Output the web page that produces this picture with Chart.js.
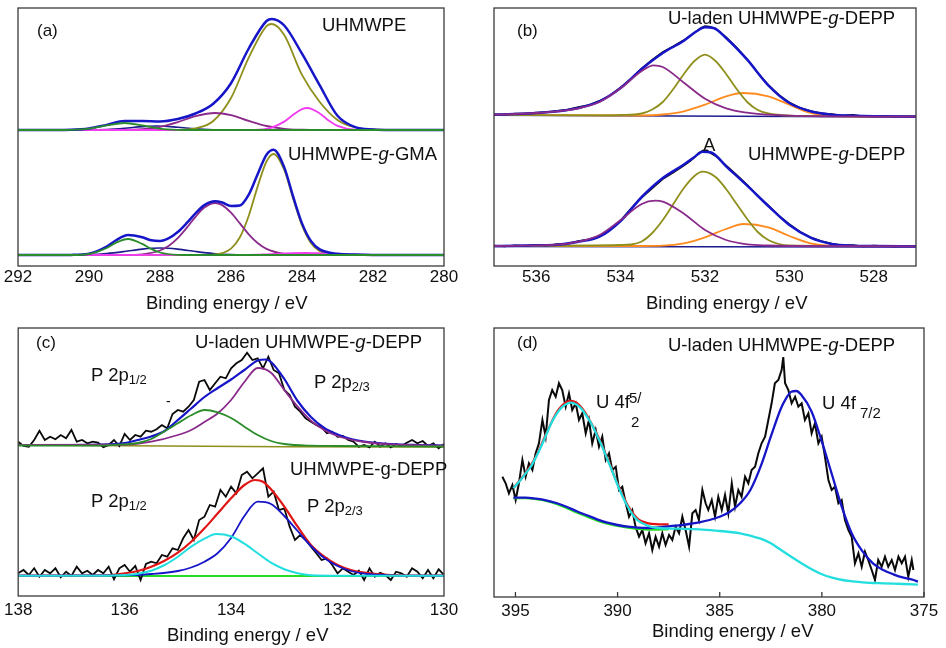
<!DOCTYPE html>
<html>
<head>
<meta charset="utf-8">
<script src="https://cdn.jsdelivr.net/npm/chart.js@4.4.1/dist/chart.umd.min.js"></script>
<style>
body{margin:0;background:#fff;width:946px;height:648px;position:relative;overflow:hidden;font-family:"Liberation Sans",Arial,sans-serif;color:#111}
canvas{position:absolute}
.t{position:absolute;white-space:nowrap;line-height:1;font-size:18.5px}
.t i{font-style:italic}
.s{font-size:13px;position:relative;top:3px}
.p{font-size:17px}
</style>
</head>
<body>
<canvas id="ca" width="470" height="296" style="left:0;top:0"></canvas>
<canvas id="cb" width="476" height="296" style="left:470px;top:0"></canvas>
<canvas id="cc" width="470" height="306" style="left:0;top:320px"></canvas>
<canvas id="cd" width="476" height="307" style="left:470px;top:320px"></canvas>

<div class="t p" style="left:37px;top:22px">(a)</div>
<div class="t" style="left:322px;top:16px">UHMWPE</div>
<div class="t" style="left:288px;top:145px">UHMWPE-<i>g</i>-GMA</div>
<div class="t" style="left:146px;top:294px">Binding energy / eV</div>

<div class="t p" style="left:517px;top:22px">(b)</div>
<div class="t" style="left:668px;top:9px">U-laden UHMWPE-<i>g</i>-DEPP</div>
<div class="t" style="left:748px;top:145px">UHMWPE-<i>g</i>-DEPP</div>
<div class="t" style="left:703px;top:136px">A</div>
<div class="t" style="left:646px;top:294px">Binding energy / eV</div>

<div class="t p" style="left:36px;top:334px">(c)</div>
<div class="t" style="left:195px;top:333px">U-laden UHMWPE-<i>g</i>-DEPP</div>
<div class="t" style="left:91px;top:366px">P 2p<span class="s">1/2</span></div>
<div class="t" style="left:314px;top:373px">P 2p<span class="s">2/3</span></div>
<div class="t" style="left:166px;top:394px;font-size:14px">-</div>
<div class="t" style="left:290px;top:460px">UHMWPE-g-DEPP</div>
<div class="t" style="left:91px;top:492px">P 2p<span class="s">1/2</span></div>
<div class="t" style="left:307px;top:497px">P 2p<span class="s">2/3</span></div>
<div class="t" style="left:167px;top:626px">Binding energy / eV</div>

<div class="t p" style="left:517px;top:334px">(d)</div>
<div class="t" style="left:668px;top:336px">U-laden UHMWPE-<i>g</i>-DEPP</div>
<div class="t" style="left:596px;top:393px">U 4f</div>
<div class="t" style="left:629px;top:390px;font-size:15px">5/</div>
<div class="t" style="left:631px;top:414px;font-size:15px">2</div>
<div class="t" style="left:822px;top:394px">U 4f</div>
<div class="t" style="left:860px;top:405px;font-size:15px">7/2</div>
<div class="t" style="left:652px;top:622px">Binding energy / eV</div>

<script>
const FONT = '"Liberation Sans", Arial, sans-serif';

// tick labels
const aTicks = [292, 290, 288, 286, 284, 282, 280];
const bTicks = [536, 534, 532, 530, 528];
const cTicks = [138, 136, 134, 132, 130];
const dTicks = [395, 390, 385, 380, 375];

/* (a) C 1s : [binding energy, intensity a.u.] */
const aTopEnvelope = [[292,136],[291,136],[290.5,136.2],[290,137.5],[289.5,141.1],[289,144.9],[288.5,144.9],[288,144.5],[287.5,147],[287,152.5],[286.5,162.3],[286,182.8],[285.5,217.5],[285,245],[284.85,247.1],[284.5,240.5],[284,212.3],[283.5,180.6],[283,150.2],[282.5,138.8],[282,136.6],[281.5,136.1],[280,136]];
const aTopOlive = [[292,136],[287.5,136.2],[287,137.6],[286.5,145],[286,168],[285.5,208.4],[285,239.9],[284.85,242],[284.5,230.9],[284,191.1],[283.5,164],[283,146],[282.5,138.5],[282,136.5],[281.5,136],[280,136]];
const aTopMagenta = [[292,136],[285.5,136],[285,137.1],[284.5,144.4],[284.25,151.2],[284,156.9],[283.85,158],[283.5,152.6],[283.25,145.6],[283,140.2],[282.5,136.3],[282,136],[280,136]];
const aTopPurple = [[292,136],[289,136.2],[288.5,136.9],[288,139.2],[287.5,143.9],[287,149.8],[286.45,153],[286,150.8],[285.5,145.1],[285,140],[284.5,137.2],[284,136.3],[283.5,136],[280,136]];
const aTopGreen = [[292,136],[291,136],[290.5,136.2],[290,137.4],[289.5,140.6],[289,143],[288.5,140.6],[288,137.4],[287.5,136.2],[287,136],[280,136]];
const aTopNavy = [[292,136],[290,136.1],[289.5,136.5],[289,137.7],[288.5,139.4],[288.1,140],[287.5,138.7],[287,137.1],[286.5,136.3],[286,136],[280,136]];

const aBotEnvelope = [[292,11],[291,11],[290.5,11.1],[290,12.4],[289.5,19.5],[289.25,25.5],[288.9,31.1],[288.5,28.7],[288.25,25.7],[288,25],[287.75,27.8],[287.5,34],[287.25,42.8],[287,52.7],[286.75,60.9],[286.45,64.8],[286.25,63.5],[286,60],[285.75,60.5],[285.5,71.3],[285.25,91.8],[285,111.3],[284.8,116.3],[284.5,98.6],[284.25,69.5],[284,42.6],[283.75,25.1],[283.5,16.6],[283,12.2],[282.5,11.4],[282,11.1],[281,11],[280,11]];
const aBotOlive = [[292,11],[286.75,11.1],[286.5,11.4],[286.25,12.8],[286,17.3],[285.75,28.7],[285.5,50.3],[285.25,79.4],[285,104.5],[284.8,112],[284.5,96],[284.25,67.4],[284,40.5],[283.75,23.1],[283.5,14.9],[283,11.2],[282.5,11],[280,11]];
const aBotPurple = [[292,11],[289,11.1],[288.5,11.7],[288,15.5],[287.75,20.3],[287.5,27.9],[287.25,38.1],[287,49.2],[286.75,58.4],[286.45,63],[286.25,60.9],[286,53.3],[285.75,42.6],[285.5,31.7],[285.25,23],[285,17.1],[284.5,12.1],[284,11.1],[283.5,11],[280,11]];
const aBotGreen = [[292,11],[290.5,11],[290,12],[289.5,18],[289.25,23.1],[288.9,27],[288.5,22.1],[288.25,17.1],[288,13.5],[287.5,11.2],[287,11],[280,11]];
const aBotNavy = [[292,11],[290.5,11.1],[290,11.4],[289.5,12.5],[289,14.5],[288.5,16.9],[288,18],[287.5,16.9],[287,14.5],[286.5,12.5],[286,11.4],[285.5,11.1],[285,11],[280,11]];
const aBotMagenta = [[292,11],[285.5,11.2],[285,11.7],[284.5,12.5],[283.9,13],[283.5,12.7],[283,12],[282.5,11.4],[282,11.1],[281.5,11],[280,11]];

/* (b) O 1s */
const bTopRaw = [[537,151.8],[536.75,151.2],[536.5,152.5],[536.25,152.4],[536,153.6],[535.75,153.9],[535.5,155.2],[535.25,156.4],[535,158.9],[534.75,161],[534.5,165.2],[534.25,170.6],[534,178.7],[533.75,187.5],[533.5,197.8],[533.25,206.3],[533,214],[532.75,219.8],[532.5,226],[532.25,233.4],[532.1,238],[532,240],[531.9,239.4],[531.75,237.5],[531.5,228.9],[531.25,218.4],[531,206.8],[530.75,193.1],[530.5,181.2],[530.25,171.2],[530,163.6],[529.75,158.3],[529.5,155.1],[529.25,152.7],[529,151.9],[528.75,150.4],[528.5,151.2],[528.25,149.8],[528,150.3],[527.5,149.6],[527,149.8]];
const bTopEnvelope = [[537,151.3],[536.5,152],[536,153],[535.5,154.7],[535,158],[534.5,164.7],[534,178],[533.5,197],[533,213],[532.5,225.3],[532.2,234.7],[532,238.7],[531.8,238],[531.5,228],[531,206.3],[530.5,180.7],[530,163],[529.5,154.7],[529,151.3],[528.5,150.3],[528,149.7],[527,149.3]];
const bTopPurple = [[537,151.3],[536.5,152],[536,153],[535.5,154.7],[535,157.7],[534.5,164],[534,177.7],[533.5,195],[533.22,200.7],[533,199],[532.5,183.3],[532,167.3],[531.5,157.7],[531,153.3],[530.5,151.3],[530,150.3],[529,149.7],[527,149.3]];
const bTopOlive = [[537,151],[534.5,150.7],[534,151],[533.5,152.5],[533.25,156.5],[533,164],[532.75,177],[532.5,192],[532.25,205],[532,211.3],[531.75,205],[531.5,192],[531.25,177],[531,164],[530.75,156],[530.5,152.5],[530,150.3],[529.5,150],[527,149.3]];
const bTopOrange = [[537,151],[533.5,150.5],[533,151.5],[532.5,154.7],[532,161.3],[531.5,169.7],[531.1,173],[530.5,169.7],[530,161.3],[529.5,153],[529,150.7],[528.5,149.7],[527,149.3]];
const bTopNavy = [[537,150.7],[527,149]];

const bBotRaw = [[537,20.5],[536.75,19.6],[536.5,20.8],[536.25,20.1],[536,21.2],[535.75,20.6],[535.5,22],[535.25,22.6],[535,24.9],[534.75,26.8],[534.5,30.2],[534.25,36.3],[534,45.6],[533.75,57.8],[533.5,68.2],[533.25,77.6],[533,86.8],[532.75,93.4],[532.5,100.3],[532.35,104.8],[532.25,108.6],[532.15,113.2],[532.05,115.4],[531.95,115.8],[531.85,112.4],[531.75,110],[531.5,100.8],[531.25,91.1],[531,81.3],[530.75,70.2],[530.5,60.8],[530.25,50.4],[530,41.9],[529.75,34.3],[529.5,28.8],[529.25,25.1],[529,22.6],[528.75,20.6],[528.5,21.1],[528.25,19.4],[528,20.5],[527.5,19.5],[527,20.2]];
const bBotEnvelope = [[537,20],[536.5,20.3],[536,20.7],[535.5,21.3],[535,24.3],[534.5,29.3],[534,45],[533.5,69],[533,88],[532.5,101.5],[532.25,109],[532.06,114.3],[531.85,113.5],[531.5,99.7],[531,80.3],[530.5,60],[530,41],[529.5,28.3],[529,22],[528.5,20.3],[528,20],[527,19.7]];
const bBotPurple = [[537,20],[535.5,21.3],[535,24.3],[534.5,31],[534,46],[533.5,62],[533.18,65.3],[533,64.3],[532.5,52.3],[532,36],[531.5,26],[531,21.7],[530.5,20.5],[530,20],[527,19.7]];
const bBotOlive = [[537,20],[534,21],[533.75,21.5],[533.5,24.5],[533.25,33],[533,46],[532.75,62],[532.5,78],[532.25,90],[532.06,94.3],[531.75,89],[531.5,77],[531.25,62],[531,47],[530.75,34],[530.5,26],[530.25,22],[530,20.7],[527,20]];
const bBotOrange = [[537,20],[533.5,20],[533,20.3],[532.5,22.7],[532,28.7],[531.5,37],[531.08,42],[530.5,38.7],[530,30],[529.5,22.7],[529,20.3],[528.5,20],[527,20]];
const bBotNavy = [[537,19.5],[527,19]];

/* (c) P 2p */
const cTopRaw = [[138,154.3],[137.9,150],[137.8,149.3],[137.7,156],[137.6,165.3],[137.5,156],[137.4,159.3],[137.3,156.7],[137.2,161],[137.1,157.7],[137,166],[136.9,154.3],[136.8,156],[136.7,152.7],[136.6,154.3],[136.5,153.3],[136.4,148.7],[136.3,151],[136.2,156],[136.1,150],[136,162],[135.9,156],[135.8,161],[135.7,159.3],[135.6,165.3],[135.5,164.3],[135.4,166.7],[135.3,171],[135.2,167.7],[135.1,182],[135,186],[134.9,184.3],[134.8,189.3],[134.7,196],[134.6,214.3],[134.5,216],[134.4,206],[134.3,212.7],[134.2,219.3],[134.1,217.7],[134,227.7],[133.9,232.7],[133.8,236],[133.7,243.3],[133.6,236],[133.5,237.7],[133.4,227.7],[133.3,239.3],[133.2,226],[133.1,222.7],[133,206],[132.9,201],[132.8,189.3],[132.7,184.3],[132.6,177.7],[132.5,174.3],[132.4,171],[132.3,168.7],[132.2,162.7],[132.1,164.3],[132,159.3],[131.9,160],[131.8,156],[131.7,154.3],[131.6,149.3],[131.5,151],[131.4,148.7],[131.3,154.3],[131.2,149.3],[131.1,152.7],[131,148.7],[130.9,152],[130.8,150],[130.7,153.3],[130.6,156],[130.5,152.7],[130.4,155],[130.3,150],[130.2,152.7],[130.1,147.7],[130,152]];
const cTopEnvelope = [[138,151],[137,151],[136.5,151.3],[136,153],[135.75,156],[135.5,159.5],[135.25,165],[135,176],[134.75,187.5],[134.5,199],[134.25,208],[134,216.5],[133.75,226],[133.5,235.5],[133.35,236.5],[133.25,234],[133,217],[132.75,195],[132.5,179],[132.25,168],[132,161.5],[131.75,157],[131.5,154.5],[131,152],[130.5,151],[130,150.5]];
const cTopPurple = [[138,151],[136,151.3],[135.5,154.3],[135,161],[134.75,166],[134.5,174],[134.25,182.7],[134,196],[133.75,214],[133.5,228],[133.25,223.3],[133,206],[132.75,189.3],[132.5,175.3],[132.25,166],[132,160],[131.5,154],[131,151.7],[130,150.3]];
const cTopGreen = [[138,150.5],[136.5,150.3],[136,151.7],[135.75,153],[135.5,157],[135.25,164.7],[135,172.7],[134.75,180.7],[134.5,186],[134.25,183.7],[134,178],[133.75,169.3],[133.5,161],[133.25,155],[133,152],[132.5,150.3],[132,150],[130,149.5]];
const cTopOlive = [[138,151],[136,150.3],[133,149.2],[130,149]];

const cBotRaw = [[138,22.7],[137.9,26],[137.8,21],[137.7,27.7],[137.6,19.3],[137.5,26],[137.4,22.7],[137.3,27.7],[137.2,18.7],[137.1,24.3],[137,20],[136.9,29.3],[136.8,22.7],[136.7,25.3],[136.6,21],[136.5,26],[136.4,22.7],[136.3,29.3],[136.2,16.7],[136.1,27.7],[136,31],[135.9,24.3],[135.8,30],[135.7,16],[135.6,32],[135.5,34.3],[135.4,32.7],[135.3,41],[135.2,39.3],[135.1,47.7],[135,46],[134.9,57.7],[134.8,66],[134.7,56],[134.6,76],[134.5,79.3],[134.4,91],[134.3,89.3],[134.2,106],[134.1,99.3],[134,109.3],[133.9,102.7],[133.8,121],[133.7,124.3],[133.6,117.7],[133.5,122.7],[133.4,127.7],[133.3,99.3],[133.2,104.3],[133.1,86],[133,87.7],[132.9,69.3],[132.8,56],[132.7,61],[132.6,56],[132.5,49.3],[132.4,42.7],[132.3,36],[132.2,37.7],[132.1,31],[132,22.7],[131.9,27.7],[131.8,24.3],[131.7,21],[131.6,25.3],[131.5,16],[131.4,27.7],[131.3,19.3],[131.2,23.3],[131.1,21],[131,16],[130.9,24.3],[130.8,22.7],[130.7,19.3],[130.6,27.7],[130.5,24.3],[130.4,17.7],[130.3,26],[130.2,17.7],[130.1,26.7],[130,21]];
const cBotRed = [[138,20.3],[136.5,20.3],[136,22.7],[135.75,25],[135.5,29.3],[135.25,35.3],[135,43.3],[134.75,54.3],[134.5,67.7],[134.25,82.7],[134,97.7],[133.75,111],[133.55,116],[133.4,114.3],[133.25,106.7],[133,89.3],[132.75,69.3],[132.5,51],[132.25,39.3],[132,31],[131.75,26],[131.5,23.3],[131,21],[130,20.3]];
const cBotBlue = [[138,20.3],[136,20.7],[135.5,22],[135,25],[134.75,28.5],[134.5,34.3],[134.25,43],[134,58],[133.75,80],[133.5,94.3],[133.25,92],[133,80],[132.75,65],[132.5,50],[132.25,38],[132,30],[131.75,25],[131.5,22.3],[131,20.7],[130,20.3]];
const cBotCyan = [[138,20.3],[136.5,20.3],[136,21],[135.75,22.3],[135.5,25.3],[135.25,31],[135,39.3],[134.75,49.3],[134.5,57.3],[134.28,62],[134,59.7],[133.75,52.3],[133.5,42.7],[133.25,33.3],[133,26.7],[132.75,22.7],[132.5,20.7],[132,20.2],[130,20.2]];
const cBotGreen = [[138,20],[130,20]];

/* (d) U 4f */
const dRaw = [[395.64,120.3],[395.48,113.7],[395.32,103.7],[395.15,112],[394.99,97],[394.83,113.7],[394.66,137],[394.5,120.3],[394.34,133.7],[394.17,127],[394.01,143.7],[393.85,153.7],[393.68,177],[393.52,160.3],[393.36,197],[393.2,207],[393.03,200.3],[392.87,213.7],[392.71,207],[392.54,190.3],[392.38,203.7],[392.22,187],[392.05,193.7],[391.89,177],[391.73,183.7],[391.56,163.7],[391.4,177],[391.24,153.7],[391.07,167],[390.91,150.3],[390.75,160.3],[390.58,137],[390.42,143.7],[390.26,127],[390.09,130.3],[389.93,107],[389.77,110.3],[389.6,93.7],[389.44,80.3],[389.28,87],[389.12,70.3],[388.95,60.3],[388.79,67],[388.63,53.7],[388.46,63.7],[388.3,47],[388.14,60.3],[387.97,50.3],[387.81,63.7],[387.65,52],[387.48,62],[387.32,57],[387.16,70.3],[386.99,63.7],[386.83,80.3],[386.67,67],[386.5,50.3],[386.34,83.7],[386.18,87],[386.02,77],[385.85,107],[385.69,93.7],[385.56,87],[385.39,97],[385.23,80.3],[385.07,100.3],[384.9,87],[384.74,102],[384.58,83.7],[384.41,113.7],[384.25,90.3],[384.09,107],[383.93,100.3],[383.76,120.3],[383.6,113.7],[383.44,127],[383.27,130.3],[383.11,143.7],[382.95,153.7],[382.78,160.3],[382.62,177],[382.46,193.7],[382.3,213.7],[382.13,217],[381.97,227],[381.89,240],[381.8,213.7],[381.64,207],[381.48,193.7],[381.31,200.3],[381.15,190.3],[380.99,193.7],[380.83,177],[380.66,183.7],[380.5,163.7],[380.34,173.7],[380.17,153.7],[380.01,160.3],[379.85,140.3],[379.68,117],[379.52,107],[379.36,110.3],[379.19,93.7],[379.03,97],[378.87,77],[378.7,67],[378.54,60.3],[378.38,33.7],[378.21,43.7],[378.05,30.3],[377.89,45.3],[377.73,37],[377.56,27],[377.4,17],[377.24,37],[377.07,30.3],[376.91,40.3],[376.75,30.3],[376.58,37],[376.42,27],[376.25,40.3],[376.09,33.7],[375.93,40.3],[375.77,20.3],[375.6,37],[375.52,27]];
const dCyan = [[395.1,108.7],[394.75,117],[394.5,123.7],[394.25,130.3],[394,139.7],[393.75,150.3],[393.5,162],[393.25,173.7],[393,182.7],[392.75,189.3],[392.5,193],[392.3,194.3],[392,192.3],[391.75,187.7],[391.5,180.3],[391.25,172],[391,161.3],[390.75,150.3],[390.5,137.7],[390.25,125.3],[390,112],[389.75,100.3],[389.5,90.3],[389.25,82],[389,76.3],[388.5,71],[388,69],[387,68.3],[386,67.7],[385,66],[384.5,65],[384,63.7],[383.5,61.3],[383,58.3],[382.5,53.7],[382,47],[381.5,40.3],[381,33.7],[380.5,27.7],[380,22.7],[379.5,19.3],[379,17],[378.5,15.7],[378,14.7],[377,13.7],[376,13],[375.3,12.3]];
const dRed = [[395.1,108.7],[394.5,124],[394,140.2],[393.5,163],[393,184],[392.75,190.8],[392.5,194.8],[392.3,196],[392,194],[391.75,189],[391.5,181.5],[391,162.3],[390.5,138.7],[390,113],[389.5,91.5],[389,78],[388.5,73.7],[388,72.7],[387.5,72.5]];
const dGreen = [[395.1,98.7],[394.5,98.7],[394,97.7],[393.5,96],[393,93],[392.5,89],[392,84.3],[391.5,80.3],[391,76.3],[390.5,73.3],[390,71],[389.5,69.3],[389,68],[388.5,67.3],[388,67.3],[387.5,67.5]];
const dBlue = [[395.1,99.3],[394.5,99.3],[394,98.3],[393.5,96.7],[393,94],[392.5,90.3],[392,85.7],[391.5,81.7],[391,77.7],[390.5,74.3],[390,72],[389.5,70.3],[389,69.3],[388.5,69],[388,69.7],[387.5,70.7],[387,71.7],[386.5,73],[386,74.7],[385.5,77],[385,80.3],[384.5,85.3],[384,93.7],[383.5,107],[383,130.3],[382.5,160.3],[382,188.7],[381.75,198.7],[381.5,205.3],[381.25,206],[381,202],[380.5,185.3],[380,155.3],[379.5,122],[379,88.7],[378.5,62],[378,45.3],[377.5,33.7],[377,27],[376.5,22.7],[376,19.3],[375.5,17],[375.3,15.3]];


const BLUE = '#1616c8', OLIVE = '#8f8f1c', MAGENTA = '#f23cf0', PURPLE = '#8a2a8a',
      GREEN = '#2a8c2a', NAVY = '#1c1c8e', ORANGE = '#ff8a1e', CYAN = '#22dede',
      RED = '#e01616', LIME = '#26dd26', BLACK = '#0a0a0a';


function line(arr, color, width, smooth){
  return {
    data: arr.map(p => ({x: p[0], y: p[1]})),
    borderColor: color,
    borderWidth: width,
    pointRadius: 0,
    fill: false,
    tension: 0,
    cubicInterpolationMode: smooth ? 'monotone' : 'default'
  };
}


// box round the plot, (d) also has small inward ticks
const frame = {
  id: 'frame',
  afterDatasetsDraw(chart, args, opts){
    const a = chart.chartArea, ctx = chart.ctx;
    ctx.save();
    ctx.strokeStyle = '#3a3a3a';
    ctx.lineWidth = 1.3;
    ctx.strokeRect(a.left, a.top, a.right - a.left, a.bottom - a.top);
    if(opts.inTicks){
      const sx = chart.scales.x;
      ctx.beginPath();
      sx.ticks.forEach(t => {
        const px = sx.getPixelForValue(t.value);
        ctx.moveTo(px, a.bottom);
        ctx.lineTo(px, a.bottom - 5);
      });
      ctx.stroke();
    }
    ctx.restore();
  }
};


function makeChart(id, xmin, xmax, ymax, ticks, pad, tickPad, datasets, inTicks){
  return new Chart(document.getElementById(id), {
    type: 'line',
    data: { datasets: datasets },
    options: {
      responsive: false,
      animation: false,
      events: [],
      layout: { padding: pad },
      plugins: { legend: {display: false}, tooltip: {enabled: false}, frame: {inTicks: inTicks} },
      scales: {
        x: {
          type: 'linear', reverse: true, min: xmin, max: xmax,
          afterBuildTicks: s => { s.ticks = ticks.map(v => ({value: v})); },
          afterFit: s => { s.height = 30; },
          grid: {display: false, drawTicks: false},
          border: {display: false},
          ticks: { font: {family: FONT, size: 17}, color: '#111', padding: tickPad, maxRotation: 0, autoSkip: false }
        },
        y: { display: false, min: 0, max: ymax }
      }
    },
    plugins: [frame]
  });
}


makeChart('ca', 280, 292, 258, aTicks, {left: 18, right: 26, top: 8, bottom: 0}, 1, [
  line(aTopGreen, GREEN, 1.8, true),
  line(aTopEnvelope, BLUE, 2.5, true),
  line(aTopMagenta, MAGENTA, 1.8, true),
  line(aTopPurple, PURPLE, 1.8, true),
  line(aTopOlive, OLIVE, 1.8, true),
  line(aTopNavy, NAVY, 1.6, true),
  line(aBotGreen, GREEN, 1.8, true),
  line(aBotEnvelope, BLUE, 2.5, true),
  line(aBotMagenta, MAGENTA, 1.8, true),
  line(aBotPurple, PURPLE, 1.8, true),
  line(aBotOlive, OLIVE, 1.8, true),
  line(aBotNavy, NAVY, 1.6, true)
], false);

makeChart('cb', 527, 537, 258, bTicks, {left: 24, right: 30, top: 8, bottom: 0}, 1, [
  line(bTopPurple, PURPLE, 1.8, true),
  line(bTopEnvelope, BLUE, 2.5, true),
  line(bTopRaw, BLACK, 1.5, false),
  line(bTopOlive, OLIVE, 1.8, true),
  line(bTopOrange, ORANGE, 1.8, true),
  line(bTopNavy, NAVY, 1.6, false),
  line(bBotPurple, PURPLE, 1.8, true),
  line(bBotEnvelope, BLUE, 2.5, true),
  line(bBotRaw, BLACK, 1.5, false),
  line(bBotOlive, OLIVE, 1.8, true),
  line(bBotOrange, ORANGE, 1.8, true),
  line(bBotNavy, NAVY, 1.6, false)
], false);

makeChart('cc', 130, 138, 268, cTicks, {left: 18, right: 26, top: 8, bottom: 0}, 4, [
  line(cTopGreen, GREEN, 1.8, true),
  line(cTopPurple, PURPLE, 1.8, true),
  line(cTopEnvelope, BLUE, 2.2, true),
  line(cTopRaw, BLACK, 1.8, false),
  line(cTopOlive, OLIVE, 1.6, false),
  line(cBotCyan, CYAN, 2, true),
  line(cBotBlue, BLUE, 1.8, true),
  line(cBotRed, RED, 2.2, true),
  line(cBotRaw, BLACK, 1.8, false),
  line(cBotGreen, LIME, 2, false)
], false);

makeChart('cd', 375, 396.05, 269, dTicks, {left: 24, right: 22, top: 8, bottom: 0}, 4, [
  line(dCyan, CYAN, 2.3, true),
  line(dBlue, BLUE, 2.3, true),
  line(dRed, RED, 2.3, true),
  line(dGreen, LIME, 2, true),
  line(dRaw, BLACK, 2, false)
], true);
</script>
</body>
</html>
